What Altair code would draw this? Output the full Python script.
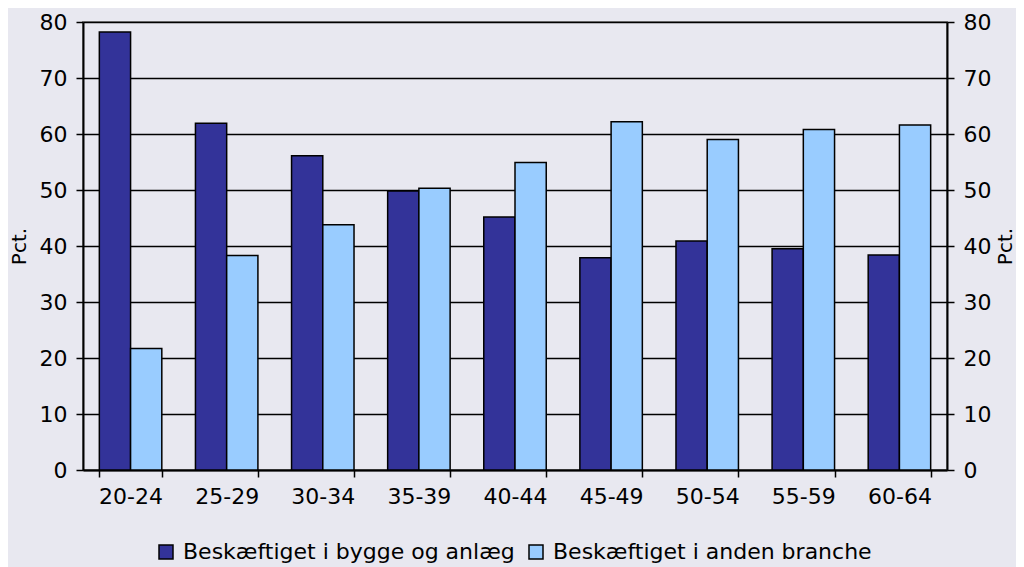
import altair as alt
import pandas as pd

ages = ["20-24", "25-29", "30-34", "35-39", "40-44", "45-49", "50-54", "55-59", "60-64"]
bygge = [78.2, 61.9, 56.1, 49.8, 45.2, 37.9, 40.9, 39.5, 38.4]
anden = [21.7, 38.3, 43.8, 50.3, 54.9, 62.2, 59.0, 60.8, 61.6]
series = ["Beskæftiget i bygge og anlæg", "Beskæftiget i anden branche"]
colors = ["#333399", "#99CCFF"]
y_ticks = [0, 10, 20, 30, 40, 50, 60, 70, 80]

df = pd.DataFrame({
    "age": ages * 2,
    "series": [series[0]] * len(ages) + [series[1]] * len(ages),
    "value": bygge + anden,
})

FONT = "DejaVu Sans"
FS = 22

x_enc = alt.X(
    "age:N", sort=ages,
    scale=alt.Scale(paddingInner=0.35, paddingOuter=0.17),
    axis=alt.Axis(title=None, labelAngle=0, tickBand="extent", tickSize=7,
                  tickColor="black", tickWidth=1.5, domainColor="black",
                  domainWidth=2, labelFontSize=FS, labelColor="black",
                  labelPadding=9, labelFont=FONT),
)

bars = alt.Chart(df).mark_bar(stroke="black", strokeWidth=1.5).encode(
    x=x_enc,
    xOffset=alt.XOffset("series:N", sort=series),
    y=alt.Y("value:Q", scale=alt.Scale(domain=[0, 80], nice=False),
            axis=alt.Axis(title="Pct.", values=y_ticks, grid=True,
                          gridColor="black", gridWidth=1.5, gridOpacity=1,
                          tickSize=7, tickColor="black", tickWidth=1.5,
                          domainColor="black", domainWidth=2,
                          labelFontSize=FS, labelColor="black", labelPadding=9,
                          labelFont=FONT,
                          titleFontSize=FS - 2, titleFontWeight="normal",
                          titleColor="black", titlePadding=10, titleFont=FONT)),
    color=alt.Color("series:N", sort=series,
                    scale=alt.Scale(domain=series, range=colors),
                    legend=alt.Legend(title=None, orient="none", direction="horizontal",
                                      legendX=72, legendY=519,
                                      symbolType="square", symbolSize=196,
                                      symbolStrokeColor="black", symbolStrokeWidth=1.5,
                                      labelFontSize=FS, labelColor="black",
                                      labelFont=FONT, labelLimit=500,
                                      labelOffset=6, columnPadding=10)),
)

right = alt.Chart(df).mark_point(opacity=0).encode(
    x=alt.X("age:N", sort=ages),
    y=alt.Y("value:Q", scale=alt.Scale(domain=[0, 80], nice=False),
            axis=alt.Axis(orient="right", title="Pct.", values=y_ticks, grid=False,
                          tickSize=7, tickColor="black", tickWidth=1.5,
                          domainColor="black", domainWidth=2,
                          labelFontSize=FS, labelColor="black", labelPadding=9,
                          labelFont=FONT, titleAngle=270,
                          titleFontSize=FS - 2, titleFontWeight="normal",
                          titleColor="black", titlePadding=25, titleFont=FONT)),
)

chart = alt.layer(bars, right).resolve_scale(y="independent").properties(
    width=864, height=448,
    padding={"left": 75, "top": 14, "right": 69, "bottom": 97},
    autosize=alt.AutoSizeParams(type="none"),
    background="#E8E8F0",
).configure_view(stroke="#888888", strokeWidth=2, fill="#E8E8F0")

chart.save("out.html", embed_options={"renderer": "svg", "actions": False})
